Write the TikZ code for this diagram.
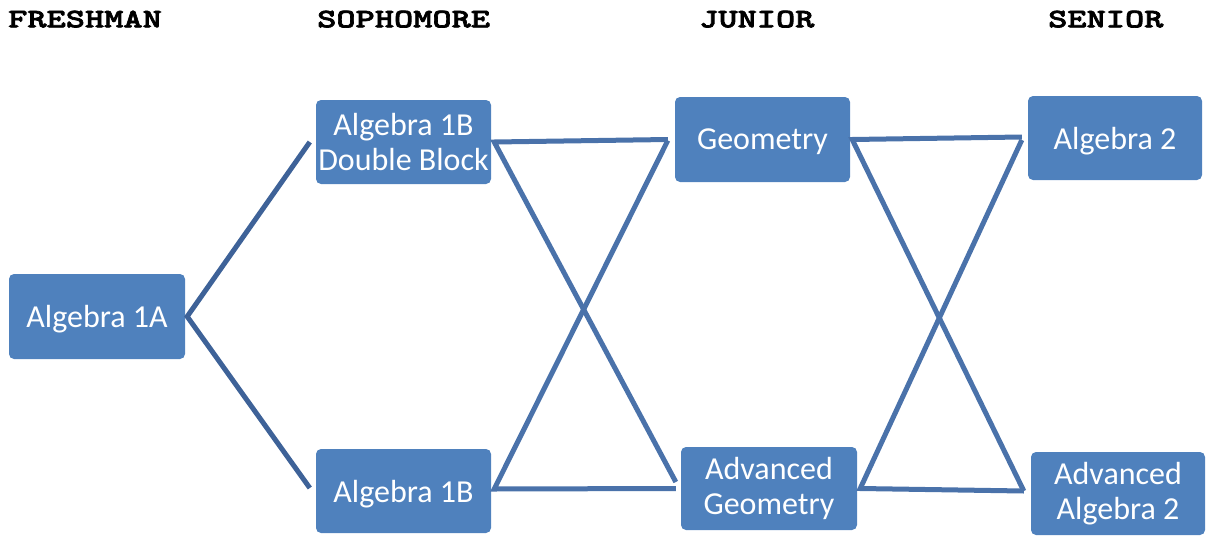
\documentclass[tikz,border=0pt]{standalone}
\usepackage{fontspec}
\setmainfont{Carlito}
\newfontfamily\headfont[Extension=.otf,FakeStretch=1.37,FakeBold=2.5]{lmmonolt10-bold}
\definecolor{boxblue}{RGB}{79,129,189}
\definecolor{linkblue}{RGB}{74,114,170}
\definecolor{linkdark}{RGB}{62,98,152}
\begin{document}
\begin{tikzpicture}[x=1pt,y=-1pt,
  course/.style={fill=boxblue, rounded corners=5pt, text=white, align=center, inner sep=0pt,
    font=\fontsize{32}{35}\selectfont},
  head/.style={anchor=base west, inner sep=0pt, font=\headfont\fontsize{26.7}{32}\selectfont},
  link/.style={draw=linkblue, line width=5pt, line join=miter},
  linkd/.style={draw=linkdark, line width=5pt, line join=miter}]
\useasboundingbox (0,0) rectangle (1206,535);

% headers
\node[head] (h1) at (8,27.3) {FRESHMAN};
\node[head] (h2) at (317,27.3) {SOPHOMORE};
\node[head] (h3) at (699,27.3) {JUNIOR};
\node[head] (h4) at (1048,27.3) {SENIOR};

% course boxes
\node[course, minimum width=176pt, minimum height=85pt, text depth=0pt] (a) at (97,316.5) {Algebra 1A};
\node[course, minimum width=175pt, minimum height=84pt] (b1) at (403.5,142) {Algebra 1B\\Double Block};
\node[course, minimum width=175pt, minimum height=84pt, text depth=0pt] (b2) at (403.5,491) {Algebra 1B};
\node[course, minimum width=175pt, minimum height=85pt, text depth=0pt] (g1) at (762.5,139.5) {Geometry};
\node[course, minimum width=176pt, minimum height=83pt] (g2) at (769,488.5) {Advanced\\Geometry};
\node[course, minimum width=174pt, minimum height=84pt, text depth=0pt] (s1) at (1115,138) {Algebra 2};
\node[course, minimum width=174pt, minimum height=83pt] (s2) at (1118,493.5) {Advanced\\Algebra 2};

% connectors
\draw[linkd] ([xshift=-6pt]b1.west) -- ([xshift=2pt]a.east) -- ([xshift=-6pt,yshift=3pt]b2.west);

\draw[link] ([xshift=-7pt]g1.west) -- ([xshift=3pt]b1.east) -- ([xshift=-5pt,yshift=6.5pt]g2.west);
\draw[link] ([xshift=-7pt,yshift=-1pt]g1.west) -- ([xshift=3pt,yshift=2pt]b2.east) -- ([xshift=-5pt]g2.west);

\draw[link] ([xshift=-6pt,yshift=1pt]s1.west) -- ([xshift=2pt]g1.east) -- ([xshift=-7pt,yshift=2.5pt]s2.west);
\draw[link] ([xshift=-6pt,yshift=-2pt]s1.west) -- ([xshift=3pt]g2.east) -- ([xshift=-7pt,yshift=2.5pt]s2.west);
\end{tikzpicture}
\end{document}
